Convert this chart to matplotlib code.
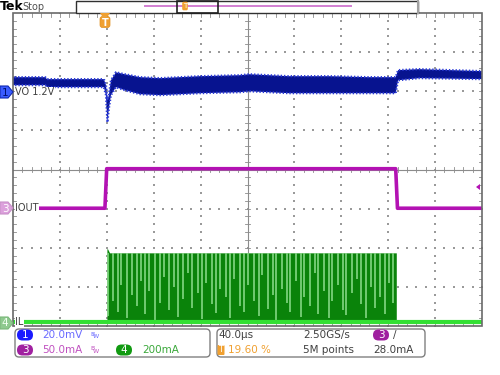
import matplotlib
matplotlib.use("Agg")
import matplotlib.pyplot as plt
from matplotlib.patches import FancyBboxPatch, Polygon, Rectangle
import numpy as np

plt.rcParams['font.family'] = ['Liberation Sans Narrow', 'DejaVu Sans']

# scope settings
t_div = 40.0          # us/div
t_trig = 0.196        # trigger position (fraction of record)
ch1_scale, ch1_pos = 20.0, 2.0     # mV/div, div
ch3_scale, ch3_pos = 50.0, -1.0    # mA/div, div
ch4_scale, ch4_pos = 200.0, -3.95  # mA/div, div

# ch1 VO (mV, relative to marker) - noise band upper/lower
vo_t = [-78.3, -51, -49.4, -0.9, 0.9, 2.1, 3.4, 5.1, 9.4, 17, 30, 47, 81, 115,
        123, 157, 191, 225, 248, 250, 268, 321.6]
vo_hi = [7.2, 7.2, 6.2, 6.2, 3.1, -4.6, -2.0, 5.6, 9.7, 8.7, 7.2, 6.7, 7.7, 8.2,
         8.7, 7.7, 7.7, 7.2, 7.2, 10.8, 11.3, 10.3]
vo_lo = [3.1, 3.1, 2.1, 2.1, -2.0, -15.9, -8.7, -2.0, 2.1, 0.5, -1.5, -2.0, -1.0, -0.5,
         0.0, -1.0, -1.0, -1.0, -1.0, 5.6, 6.7, 6.2]

# ch3 IOUT (mA)
iout_t = [-60, 0.0, 1.5, 248.0, 249.5, 321.6]
iout_v = [0.5, 0.5, 51.0, 51.0, 0.5, 0.5]

# ch4 IL (mA)
il_base = 8.0
il_t = [1.7, 2.2, 4.0, 248.0, 248.5]
il_pk = [385, 385, 364, 364, 364]
il_pulses = [3, 7, 11, 14, 19, 23, 27, 31, 34, 38, 43, 47, 50, 55, 59, 62, 67, 71,
             74, 79, 83, 86, 91, 95, 98, 103, 107, 110, 115, 119, 122, 127, 131, 134,
             139, 143, 146, 151, 155, 158, 163, 167, 170, 175, 179, 182, 187, 191, 194,
             199, 203, 206, 211, 215, 218, 223, 227, 230, 235, 239, 242, 246]
il_low = [40, 120, 60, 200, 30, 150, 90, 220, 50, 170, 20, 110, 240, 70, 190, 35,
          130, 260, 80, 160, 25, 210, 100, 55, 180, 140, 30, 230, 90, 60, 200, 120,
          40, 250, 75, 150, 20, 180, 110, 60, 220, 35, 140, 90, 260, 50, 170, 30,
          120, 200, 70, 45, 160, 230, 100, 30, 190, 80, 140, 50, 210, 110]

fig = plt.figure(figsize=(5, 3.75), dpi=100)
W, H = 500, 375
L, R, T, B = 13, 482, 13, 326
ax = fig.add_axes([L / W, 1 - B / H, (R - L) / W, (B - T) / H])
t0 = -t_trig * 10 * t_div
ax.set_xlim(t0, t0 + 10 * t_div)
ax.set_ylim(-4, 4)
ax.axis('off')

def xd(d):
    return t0 + d * t_div

# graticule dots
gx, gy = [], []
for d in range(1, 10):
    if d == 5:
        continue
    for k in range(0, 41):
        gx.append(xd(d)); gy.append(-4 + k * 0.2)
for d in range(-3, 4):
    if d == 0:
        continue
    for k in range(0, 51):
        gx.append(xd(k * 0.2)); gy.append(d)
ax.scatter(gx, gy, s=0.6, marker='s', color='#9a9a9a', lw=0, zorder=1)
# centre cross and border ticks
gc = '#8c8c8c'
ax.plot([xd(5), xd(5)], [-4, 4], color=gc, lw=0.8, zorder=1)
ax.plot([xd(0), xd(10)], [0, 0], color=gc, lw=0.8, zorder=1)
for k in range(1, 50):
    ax.plot([xd(k * 0.2)] * 2, [-0.07, 0.07], color=gc, lw=0.6, zorder=1)
    ax.plot([xd(k * 0.2)] * 2, [4, 3.9], color=gc, lw=0.6, zorder=1)
    ax.plot([xd(k * 0.2)] * 2, [-4, -3.9], color=gc, lw=0.6, zorder=1)
for k in range(1, 40):
    y = -4 + k * 0.2
    ax.plot([xd(4.94), xd(5.06)], [y, y], color=gc, lw=0.6, zorder=1)
    ax.plot([xd(0), xd(0.06)], [y, y], color=gc, lw=0.6, zorder=1)
    ax.plot([xd(9.94), xd(10)], [y, y], color=gc, lw=0.6, zorder=1)
ax.add_patch(Rectangle((xd(0), -4), 10 * t_div, 8, fill=False, ec='#6a6a6a', lw=1.2, zorder=6, clip_on=False))

# ch4 IL
pk = ch4_pos + np.array(il_pk) / ch4_scale
base = ch4_pos + il_base / ch4_scale
ax.fill_between(il_t, base, pk, color='#0a830a', lw=0, zorder=2)
ax.vlines(il_pulses, ch4_pos + np.array(il_low) / ch4_scale, ch4_pos + 364 / ch4_scale,
          color='#86d886', lw=1.3, alpha=0.9, zorder=3)
ax.plot([t0, t0 + 10 * t_div], [base, base], color='#33e033', lw=3.0, zorder=4, solid_capstyle='butt')

# ch3 IOUT
ax.plot(iout_t, ch3_pos + np.array(iout_v) / ch3_scale, color='#b312b3', lw=2.6, zorder=4)

# ch1 VO
ax.fill_between(vo_t, ch1_pos + np.array(vo_lo) / ch1_scale, ch1_pos + np.array(vo_hi) / ch1_scale,
                color='#07138f', lw=1.6, ec='#2a3ad8', ls=(0, (0.6, 0.9)), zorder=4)

# overlay in pixels
ov = fig.add_axes([0, 0, 1, 1], facecolor='none')
ov.set_xlim(0, W); ov.set_ylim(H, 0); ov.axis('off')

# trace labels
for txt, y in [("VO 1.2V", 92), ("IOUT", 208), ("IL", 322)]:
    ov.text(15, y, txt, fontsize=7, color='#404040', va='center', ha='left',
            bbox=dict(fc='white', ec='none', pad=0.3), zorder=8)

# channel markers
def chan_marker(y, n, fc, ec, tc):
    ov.add_patch(Polygon([(0, y - 6), (8, y - 6), (13, y), (8, y + 6), (0, y + 6)],
                         closed=True, fc=fc, ec=ec, lw=0.8, zorder=9))
    ov.text(5, y + 0.5, n, fontsize=7.5, color=tc, ha='center', va='center', zorder=10)

chan_marker(92, "1", '#3a5cff', '#1028b0', '#001070')
chan_marker(208, "3", '#dca0dc', '#c890c8', 'white')
chan_marker(323, "4", '#8fc98f', '#7ab87a', '#f0fff0')

# trigger level arrow (right)
ov.add_patch(Polygon([(476, 187), (480, 184), (480, 190)], closed=True, fc='#b312b3', ec='none', zorder=9))

# trigger position marker (top)
ov.add_patch(Polygon([(100, 13), (110, 13), (108, 16), (102, 16)], closed=True, fc='#f0a030', ec='none', zorder=9))
ov.add_patch(FancyBboxPatch((100.5, 17), 9, 10, boxstyle='round,pad=0.5,rounding_size=2.5',
                            fc='#f0a030', ec='#e09020', lw=0.5, zorder=9))
ov.text(105, 22.5, "T", fontsize=7, color='white', ha='center', va='center', fontweight='bold', zorder=10)

# header
ov.text(0, 7, "Tek", fontsize=9, fontweight='bold', color='black', va='center', ha='left')
ov.text(22, 7, "Stop", fontsize=7, color='#505050', va='center', ha='left')
ov.add_patch(Rectangle((76, 0.5), 342, 12.5, fc='white', ec='#303030', lw=1.0, zorder=5))
ov.plot([418, 418], [0, 13], color='#a0a0a0', lw=1.5, zorder=5)
ov.plot([145, 351], [5.5, 5.5], color='#d27fd2', lw=1.4, zorder=6)
ov.add_patch(Rectangle((177, 0.5), 41, 12.5, fc='none', ec='#202020', lw=1.2, zorder=7))
ov.add_patch(FancyBboxPatch((182.5, 2), 5, 8, boxstyle='round,pad=0.3,rounding_size=1.5',
                            fc='#f0a030', ec='none', zorder=8))
ov.text(185, 6.5, "T", fontsize=5, color='white', ha='center', va='center', zorder=9)

# bottom panels
for x0, x1 in [(13, 212), (215, 427)]:
    ov.add_patch(FancyBboxPatch((x0 + 2, 329), x1 - x0 - 4, 28, boxstyle='round,pad=0,rounding_size=4',
                                fc='white', ec='#808080', lw=1.0, zorder=5))

def chip(x, y, n, fc):
    ov.add_patch(FancyBboxPatch((x - 8, y - 5.5), 16, 11, boxstyle='round,pad=0,rounding_size=5.5',
                                fc=fc, ec='none', zorder=6))
    ov.text(x, y + 0.3, n, fontsize=7.5, color='white', ha='center', va='center', zorder=7)

r1, r2 = 335, 350
chip(25, r1, "1", '#1a1aff')
ov.text(42, r1, "20.0mV", fontsize=7.5, color='#6a6aff', va='center', zorder=7)
ov.text(90, r1 - 1, "B", fontsize=4.5, color='#6a6aff', va='center', zorder=7)
ov.text(93, r1 + 1.5, "W", fontsize=4.5, color='#6a6aff', va='center', zorder=7)
chip(25, r2, "3", '#a020a0')
ov.text(42, r2, "50.0mA", fontsize=7.5, color='#c050c0', va='center', zorder=7)
ov.text(90, r2 - 1, "B", fontsize=4.5, color='#c050c0', va='center', zorder=7)
ov.text(93, r2 + 1.5, "W", fontsize=4.5, color='#c050c0', va='center', zorder=7)
chip(124, r2, "4", '#119a11')
ov.text(142, r2, "200mA", fontsize=7.5, color='#3aa83a', va='center', zorder=7)

ov.text(218, r1, "40.0\u00b5s", fontsize=7.5, color='#404040', va='center', zorder=7)
ov.add_patch(FancyBboxPatch((217.5, r2 - 5), 7, 10, boxstyle='round,pad=0,rounding_size=1',
                            fc='#f0a030', ec='none', zorder=6))
ov.text(221, r2, "T", fontsize=6, color='white', ha='center', va='center', zorder=7)
ov.text(228, r2, "19.60 %", fontsize=7.5, color='#f0a030', va='center', zorder=7)
ov.text(303, r1, "2.50GS/s", fontsize=7.5, color='#404040', va='center', zorder=7)
ov.text(303, r2, "5M points", fontsize=7.5, color='#404040', va='center', zorder=7)
chip(381, r1, "3", '#a020a0')
ov.text(393, r1, "/", fontsize=7.5, color='#404040', va='center', zorder=7)
ov.text(373, r2, "28.0mA", fontsize=7.5, color='#404040', va='center', zorder=7)

fig.savefig("out.png", dpi=100)
